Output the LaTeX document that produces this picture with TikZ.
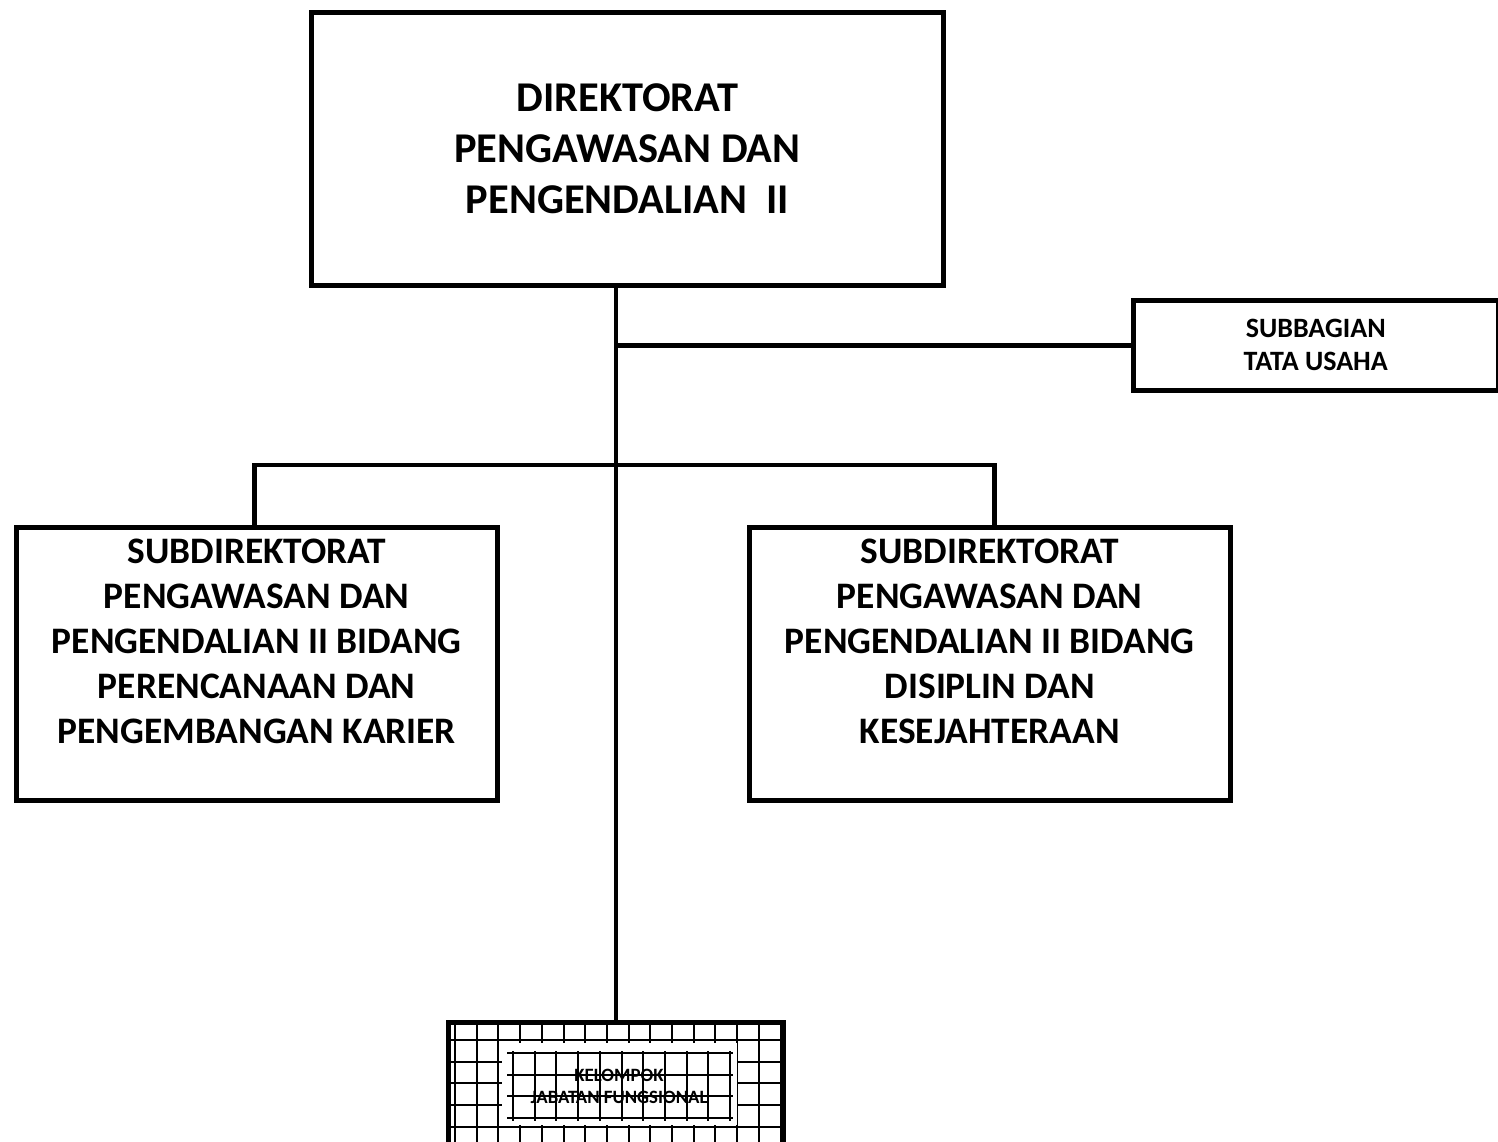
\documentclass[tikz,border=0pt]{standalone}
\usepackage{fontspec}
\setmainfont{Carlito}
\begin{document}
\begin{tikzpicture}[x=1pt,y=-1pt,
  box/.style={draw, line width=4.5pt, anchor=north west, inner sep=0pt, align=center, font=\bfseries},
  subtext/.style={align=center, inner sep=0pt, font=\bfseries\fontsize{37.4}{45}\selectfont},
  conn/.style={line width=4.5pt},
  gridline/.style={line width=2pt}]
\useasboundingbox (0,0) rectangle (1498,1141);
% top box
\node[box, minimum width=632pt, minimum height=273pt,
  font=\bfseries\fontsize{42.4}{51}\selectfont] (dir) at (309,10)
  {DIREKTORAT\\PENGAWASAN DAN\\PENGENDALIAN\ \ II};
% subbagian
\node[box, minimum width=365pt, minimum height=90pt,
  font=\bfseries\fontsize{28}{33}\selectfont] (sub) at (1131,298)
  {SUBBAGIAN\\TATA USAHA};
% left / right subdirektorat
\node[box, minimum width=481pt, minimum height=273pt] (left) at (14,525) {};
\node[subtext] (lefttxt) at ([yshift=22pt]left.center)
  {SUBDIREKTORAT\\PENGAWASAN DAN\\PENGENDALIAN II BIDANG\\PERENCANAAN DAN\\PENGEMBANGAN KARIER};
\node[box, minimum width=481pt, minimum height=273pt] (right) at (747,525) {};
\node[subtext] (righttxt) at ([yshift=22pt]right.center)
  {SUBDIREKTORAT\\PENGAWASAN DAN\\PENGENDALIAN II BIDANG\\DISIPLIN DAN\\KESEJAHTERAAN};
% bottom grid box
\fill[white] (446,1020) rectangle (781,1160);
\begin{scope}
  \clip (446,1020) rectangle (781,1160);
  \foreach \i in {0,...,15} {
    \draw[gridline] (455+21.7*\i,1015) -- (455+21.7*\i,1165);
  }
  \foreach \j in {0,...,6} {
    \draw[gridline] (440,1040+21.7*\j) -- (790,1040+21.7*\j);
  }
\end{scope}
\node[draw, line width=4.5pt, anchor=north west, inner sep=0pt,
  minimum width=335pt, minimum height=140pt] (jf) at (446,1020) {};
\fill[white] (502,1043) rectangle (737,1125);
\foreach \i in {0,...,10} {
  \draw[gridline] (513+21.7*\i,1051) -- (513+21.7*\i,1121);
}
\foreach \j in {0,...,3} {
  \draw[gridline] (507,1053+21.5*\j) -- (733,1053+21.5*\j);
}
\node[align=center, inner sep=0pt, font=\bfseries\fontsize{18.8}{22}\selectfont] (jft) at (619,1086)
  {KELOMPOK\\JABATAN FUNGSIONAL};
% connectors
\coordinate (bar) at (615,465);
\draw[conn] (jf.north |- dir.south) -- (jf.north);
\draw[conn] (jf.north |- sub.west) -- (sub.west);
\draw[conn] ([xshift=-2.5pt]left.north) |- (bar) -| ([xshift=4.5pt]right.north);
\end{tikzpicture}
\end{document}
